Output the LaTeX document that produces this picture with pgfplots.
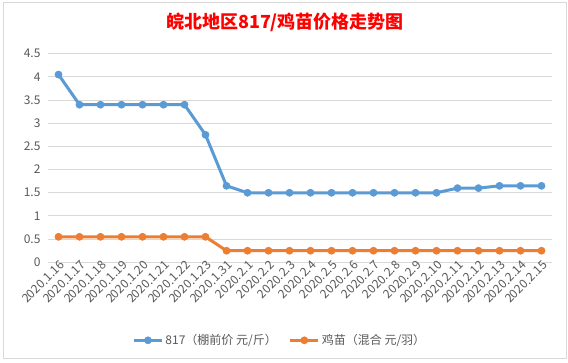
\documentclass[border=0pt]{standalone}
\usepackage{pgfplots}
\pgfplotsset{compat=1.18}
\usepackage{fontspec}
\setmainfont{Noto Sans CJK SC}
\definecolor{blueS}{HTML}{5B9BD5}
\definecolor{orangeS}{HTML}{ED7D31}
\definecolor{txt}{HTML}{595959}
\definecolor{gridc}{HTML}{D9D9D9}
\begin{document}
\begin{tikzpicture}
\fill[white] (0bp,0bp) rectangle (568bp,-363bp);
\draw[gridc, line width=0.9bp] (3bp,-2bp) rectangle (566bp,-358bp);
\node[text=red, font=\fontsize{18bp}{20bp}\selectfont\bfseries] at (285bp,-22bp) {皖北地区817/鸡苗价格走势图};
\begin{axis}[
  at={(48bp,-262.3bp)}, anchor=south west,
  scale only axis, width=504bp, height=208.6bp,
  xmin=-0.5, xmax=23.5, ymin=0, ymax=4.5,
  ytick={0,0.5,1,1.5,2,2.5,3,3.5,4,4.5},
  xtick={0,...,23},
  xticklabels={2020.1.16,2020.1.17,2020.1.18,2020.1.19,2020.1.20,2020.1.21,2020.1.22,2020.1.23,2020.1.31,2020.2.1,2020.2.2,2020.2.3,2020.2.4,2020.2.5,2020.2.6,2020.2.7,2020.2.8,2020.2.9,2020.2.10,2020.2.11,2020.2.12,2020.2.13,2020.2.14,2020.2.15},
  axis line style={draw=none},
  major tick length=0pt,
  ymajorgrids, grid style={gridc, line width=0.9bp},
  /pgf/number format/assume math mode=true,
  yticklabel style={font=\fontsize{12bp}{14bp}\selectfont, text=txt, anchor=east, xshift=-4bp},
  xticklabel style={font=\fontsize{12bp}{14bp}\selectfont, text=txt, rotate=45, anchor=east, xshift=3bp, yshift=-3bp, inner sep=1bp},
  legend style={draw=none, fill=none, font=\fontsize{12bp}{14bp}\selectfont, text=txt,
    at={(0.46,-0.374)}, anchor=center, legend columns=2,
    /tikz/every even column/.append style={column sep=10bp}},
  legend image code/.code={\draw[mark repeat=2,mark phase=2,#1] plot coordinates {(0bp,0bp)(14bp,0bp)(28bp,0bp)};},
]
\addplot[blueS, line width=3bp, mark=*, mark size=3.6bp, mark options={fill=blueS, draw=blueS, line width=0.5bp}] coordinates {
(0,4.05)(1,3.4)(2,3.4)(3,3.4)(4,3.4)(5,3.4)(6,3.4)(7,2.75)(8,1.65)(9,1.5)(10,1.5)(11,1.5)(12,1.5)(13,1.5)(14,1.5)(15,1.5)(16,1.5)(17,1.5)(18,1.5)(19,1.6)(20,1.6)(21,1.65)(22,1.65)(23,1.65)};
\addlegendentry{817（棚前价 元/斤）}
\addplot[orangeS, line width=3bp, mark=*, mark size=3.6bp, mark options={fill=orangeS, draw=orangeS, line width=0.5bp}] coordinates {
(0,0.55)(1,0.55)(2,0.55)(3,0.55)(4,0.55)(5,0.55)(6,0.55)(7,0.55)(8,0.25)(9,0.25)(10,0.25)(11,0.25)(12,0.25)(13,0.25)(14,0.25)(15,0.25)(16,0.25)(17,0.25)(18,0.25)(19,0.25)(20,0.25)(21,0.25)(22,0.25)(23,0.25)};
\addlegendentry{鸡苗（混合 元/羽）}
\end{axis}
\end{tikzpicture}
\end{document}
